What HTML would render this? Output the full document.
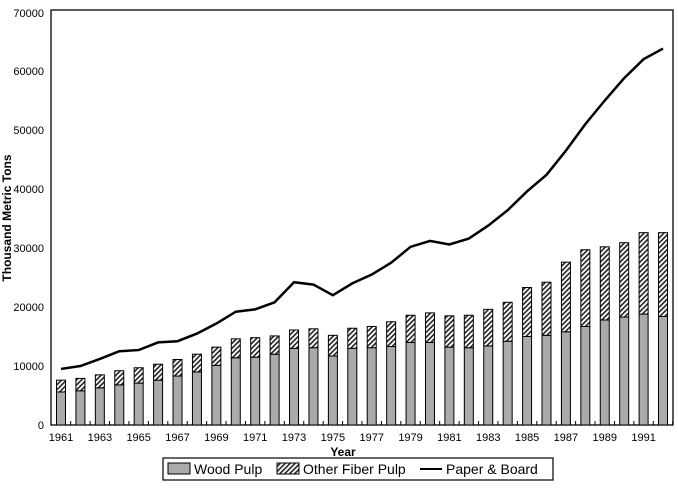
<!DOCTYPE html><html><head><style>body{margin:0;background:#fff}</style></head><body>
<svg width="678" height="492" xmlns="http://www.w3.org/2000/svg" font-family="Liberation Sans, sans-serif">
<defs><pattern id="h" width="3.5" height="3.5" patternUnits="userSpaceOnUse" patternTransform="rotate(45)"><rect width="4" height="4" fill="#fff"/><rect width="1.6" height="4" fill="#222"/></pattern></defs>
<rect x="51" y="10" width="622" height="415" fill="none" stroke="#000" stroke-width="1.3"/>
<g font-size="11" text-anchor="end" fill="#000">
<text x="44" y="429">0</text><text x="44" y="370">10000</text><text x="44" y="311">20000</text><text x="44" y="252">30000</text><text x="44" y="193">40000</text><text x="44" y="134">50000</text><text x="44" y="75">60000</text><text x="44" y="17">70000</text></g>
<text transform="translate(11,218) rotate(-90)" font-size="12" font-weight="bold" text-anchor="middle">Thousand Metric Tons</text>
<text x="343" y="456" font-size="12" font-weight="bold" text-anchor="middle">Year</text>
<g id="bars"></g>
<polyline id="ln" fill="none" stroke="#000" stroke-width="2.5"/>
<g id="xl" font-size="11" text-anchor="middle"></g>
<rect x="163" y="458" width="390" height="22" fill="#fff" stroke="#000" stroke-width="1.2"/>
<rect x="168" y="463" width="22" height="11" fill="#aaa" stroke="#000"/>
<text x="194" y="474" font-size="14">Wood Pulp</text>
<rect x="277" y="463" width="22" height="11" fill="url(#h)" stroke="#000"/>
<text x="303" y="474" font-size="14">Other Fiber Pulp</text>
<line x1="420" y1="469" x2="442" y2="469" stroke="#000" stroke-width="2"/>
<text x="446" y="474" font-size="14">Paper &amp; Board</text>
</svg>
<script>
var w=[5600,5800,6300,6800,7100,7600,8300,9000,10100,11400,11500,12000,13000,13100,11700,13000,13100,13300,14000,14000,13200,13100,13400,14200,15000,15200,15800,16700,17800,18300,18800,18400];
var t=[7600,7900,8500,9200,9700,10300,11100,12000,13200,14600,14800,15100,16100,16300,15200,16400,16700,17500,18600,19000,18500,18600,19600,20800,23300,24200,27600,29700,30200,30900,32600,32600];
var l=[9500,10000,11200,12500,12700,14000,14200,15500,17200,19200,19600,20800,24200,23800,22000,24000,25500,27500,30200,31200,30600,31600,33800,36400,39600,42400,46500,51000,55000,58800,62000,63800];
function Y(v){return 425-v*0.0059}
var s='',p=[],x='';
for(var i=0;i<32;i++){var c=61+i*19.42;
s+='<rect x="'+(c-4.5)+'" y="'+Y(w[i])+'" width="9" height="'+(w[i]*0.0059)+'" fill="#aaa" stroke="#000" stroke-width="1"/>';
s+='<rect x="'+(c-4.5)+'" y="'+Y(t[i])+'" width="9" height="'+((t[i]-w[i])*0.0059)+'" fill="url(#h)" stroke="#000" stroke-width="1"/>';
s+='<line x1="'+(c+9.7)+'" y1="425" x2="'+(c+9.7)+'" y2="421" stroke="#000"/>';
p.push(c+','+Y(l[i]));
if(i%2==0)x+='<text x="'+c+'" y="441">'+(1961+i)+'</text>';}
document.getElementById('bars').innerHTML=s;
document.getElementById('ln').setAttribute('points',p.join(' '));
document.getElementById('xl').innerHTML=x;
</script>
</body></html>
